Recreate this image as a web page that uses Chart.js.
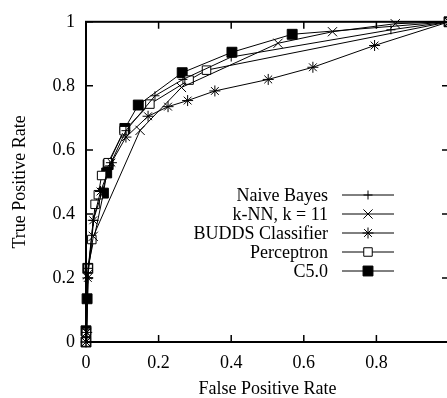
<!DOCTYPE html>
<html>
<head>
<meta charset="utf-8">
<script src="https://cdn.jsdelivr.net/npm/chart.js@4/dist/chart.umd.min.js"></script>
<style>
  html, body { margin: 0; padding: 0; background: #fff; overflow: hidden; }
  #rocChart { display: block; }
</style>
</head>
<body>
<canvas id="rocChart" width="460" height="398"></canvas>
<script>
/**
 * ROC curves for five classifiers.
 */

const SERIES_LABELS = ["Naive Bayes", "k-NN, k = 11", "BUDDS Classifier", "Perceptron", "C5.0"];

const NB_FPR = [0, 0.002, 0.006, 0.02, 0.045, 0.065, 0.11, 0.19, 0.267, 0.40, 0.84, 1];
const NB_TPR = [0, 0.04, 0.23, 0.38, 0.47, 0.55, 0.66, 0.769, 0.82, 0.89, 0.975, 1];

const KNN_FPR = [0, 0.002, 0.004, 0.02, 0.149, 0.263, 0.529, 0.679, 0.852, 1];
const KNN_TPR = [0, 0.03, 0.21, 0.33, 0.661, 0.795, 0.933, 0.969, 0.994, 1];

const BUDDS_FPR = [0, 0.002, 0.005, 0.02, 0.04, 0.07, 0.11, 0.171, 0.226, 0.28, 0.355, 0.502, 0.625, 0.795, 1];
const BUDDS_TPR = [0, 0.03, 0.2, 0.38, 0.47, 0.56, 0.64, 0.705, 0.735, 0.754, 0.784, 0.82, 0.858, 0.926, 1];

const PERC_FPR = [0, 0.001, 0.006, 0.016, 0.025, 0.034, 0.043, 0.061, 0.105, 0.176, 0.284, 0.332, 1];
const PERC_TPR = [0, 0.03, 0.23, 0.32, 0.43, 0.46, 0.52, 0.56, 0.66, 0.743, 0.818, 0.849, 1];

const C50_FPR = [0, 0, 0.003, 0.005, 0.048, 0.057, 0.061, 0.107, 0.144, 0.265, 0.402, 0.568, 1];
const C50_TPR = [0, 0.035, 0.135, 0.23, 0.465, 0.528, 0.554, 0.667, 0.74, 0.841, 0.905, 0.961, 1];

const AXIS_TICKS = [0, 0.2, 0.4, 0.6, 0.8, 1];

const FONT_FAMILY = "'Liberation Serif', 'DejaVu Serif', serif";

function toPoints(xList, yList) {
  return xList.map((x, i) => ({ x: x, y: yList[i] }));
}

function makeDataset(label, xList, yList, style, radius, fill) {
  return {
    label: label,
    data: toPoints(xList, yList),
    showLine: true,
    borderColor: "#000",
    borderWidth: 1,
    pointStyle: style,
    pointRadius: radius,
    pointBorderWidth: 1,
    pointBorderColor: "#000",
    pointBackgroundColor: fill,
    clip: false
  };
}

/**
 * Gnuplot-like frame: full box, inward ticks mirrored on all sides, inner key.
 */
const frameAndKey = {
  id: "frameAndKey",
  afterDatasetsDraw(chart) {
    const ctx = chart.ctx;
    const area = chart.chartArea;
    const xs = chart.scales.x;
    const ys = chart.scales.y;
    const TICK = 7;

    ctx.save();
    ctx.strokeStyle = "#000";
    ctx.lineWidth = 2;
    ctx.strokeRect(area.left, area.top, area.right - area.left, area.bottom - area.top);

    ctx.lineWidth = 1.5;
    ctx.beginPath();
    AXIS_TICKS.forEach((t) => {
      const px = xs.getPixelForValue(t);
      ctx.moveTo(px, area.bottom);
      ctx.lineTo(px, area.bottom - TICK);
      ctx.moveTo(px, area.top);
      ctx.lineTo(px, area.top + TICK);
      const py = ys.getPixelForValue(t);
      ctx.moveTo(area.left, py);
      ctx.lineTo(area.left + TICK, py);
      ctx.moveTo(area.right, py);
      ctx.lineTo(area.right - TICK, py);
    });
    ctx.stroke();

    // Key
    const KEY_TEXT_RIGHT = 328;
    const KEY_LINE_LEFT = 342;
    const KEY_LINE_RIGHT = 394;
    const KEY_TOP = 195;
    const KEY_STEP = 19;
    ctx.font = "18px " + FONT_FAMILY;
    ctx.textAlign = "right";
    ctx.textBaseline = "middle";
    chart.data.datasets.forEach((ds, i) => {
      const y = KEY_TOP + i * KEY_STEP;
      ctx.fillStyle = "#000";
      ctx.fillText(ds.label, KEY_TEXT_RIGHT, y + 1);
      ctx.lineWidth = 1;
      ctx.beginPath();
      ctx.moveTo(KEY_LINE_LEFT, y);
      ctx.lineTo(KEY_LINE_RIGHT, y);
      ctx.stroke();
      ctx.fillStyle = ds.pointBackgroundColor;
      if (Chart.helpers && Chart.helpers.drawPoint) {
        Chart.helpers.drawPoint(ctx, {
          pointStyle: ds.pointStyle,
          radius: ds.pointRadius,
          rotation: 0,
          borderWidth: 1
        }, (KEY_LINE_LEFT + KEY_LINE_RIGHT) / 2, y);
      }
    });
    ctx.restore();
  }
};

const CTX = document.getElementById("rocChart").getContext("2d");

new Chart(CTX, {
  type: "scatter",
  data: {
    datasets: [
      makeDataset(SERIES_LABELS[0], NB_FPR, NB_TPR, "cross", 4.5, "#000"),
      makeDataset(SERIES_LABELS[1], KNN_FPR, KNN_TPR, "crossRot", 6.5, "#000"),
      makeDataset(SERIES_LABELS[2], BUDDS_FPR, BUDDS_TPR, "star", 5.5, "#000"),
      makeDataset(SERIES_LABELS[3], PERC_FPR, PERC_TPR, "rect", 6, "#fff"),
      makeDataset(SERIES_LABELS[4], C50_FPR, C50_TPR, "rect", 7, "#000")
    ]
  },
  options: {
    responsive: false,
    animation: false,
    devicePixelRatio: 1,
    layout: { padding: { left: 0, right: 11, top: 16, bottom: 0 } },
    plugins: {
      legend: { display: false },
      tooltip: { enabled: false }
    },
    scales: {
      x: {
        type: "linear",
        min: 0,
        max: 1,
        afterBuildTicks: (scale) => { scale.ticks = AXIS_TICKS.map((v) => ({ value: v })); },
        afterFit: (scale) => { scale.height = 56; },
        grid: { display: false, drawTicks: false },
        border: { display: false },
        ticks: {
          color: "#000",
          padding: 10,
          maxRotation: 0,
          font: { family: FONT_FAMILY, size: 18 },
          callback: (v) => (v === 1 ? "" : String(v))
        },
        title: {
          display: true,
          text: "False Positive Rate",
          color: "#000",
          padding: { top: 0, bottom: 0 },
          font: { family: FONT_FAMILY, size: 18, lineHeight: 1.0 }
        }
      },
      y: {
        type: "linear",
        min: 0,
        max: 1,
        afterBuildTicks: (scale) => { scale.ticks = AXIS_TICKS.map((v) => ({ value: v })); },
        afterFit: (scale) => { scale.width = 86; },
        grid: { display: false, drawTicks: false },
        border: { display: false },
        ticks: {
          color: "#000",
          padding: 11,
          font: { family: FONT_FAMILY, size: 18 },
          callback: (v) => String(v)
        },
        title: {
          display: true,
          text: "True Positive Rate",
          color: "#000",
          padding: { top: 9, bottom: 0 },
          font: { family: FONT_FAMILY, size: 18 }
        }
      }
    }
  },
  plugins: [frameAndKey]
});
</script>
</body>
</html>
